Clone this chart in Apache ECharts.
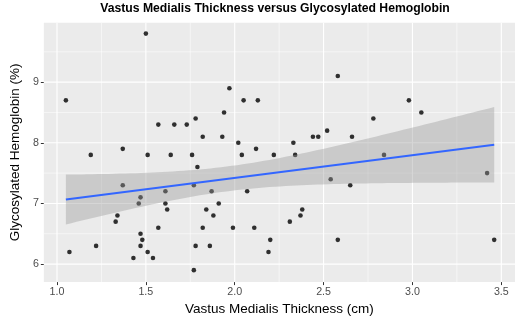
<!DOCTYPE html>
<html>
<head>
<meta charset="utf-8">
<script src="https://cdn.jsdelivr.net/npm/echarts@6/dist/echarts.min.js"></script>
<style>
  html, body { margin: 0; padding: 0; background: #fff; }
  #chart { width: 520px; height: 321px; }
</style>
</head>
<body>
<div id="chart"></div>
<script>
// vastus medialis thickness (cm) and HbA1c (%) per subject
var thickness = [
  1.05, 1.07, 1.19, 1.22, 1.33, 1.34, 1.37, 1.37, 1.43, 1.46,
  1.47, 1.47, 1.47, 1.48, 1.50, 1.51, 1.51, 1.54, 1.57, 1.57,
  1.61, 1.61, 1.62, 1.64, 1.66, 1.73, 1.76, 1.77, 1.77, 1.78,
  1.78, 1.79, 1.82, 1.82, 1.84, 1.86, 1.87, 1.88, 1.91, 1.93,
  1.94, 1.97, 1.99, 2.02, 2.04, 2.05, 2.07, 2.11, 2.12, 2.13,
  2.19, 2.20, 2.22, 2.31, 2.33, 2.34, 2.37, 2.38, 2.44, 2.47,
  2.52, 2.54, 2.58, 2.58, 2.65, 2.66, 2.78, 2.84, 2.98, 3.05,
  3.42, 3.46
];
var hba1c = [
  8.7, 6.2, 7.8, 6.3, 6.7, 6.8, 7.9, 7.3, 6.1, 7.0,
  7.1, 6.5, 6.3, 6.4, 9.8, 7.8, 6.2, 6.1, 8.3, 6.6,
  7.0, 7.2, 6.9, 7.8, 8.3, 8.3, 7.8, 7.3, 5.9, 8.4,
  6.3, 7.6, 8.1, 6.6, 6.9, 6.3, 7.2, 6.8, 7.0, 8.1,
  8.5, 8.9, 6.6, 8.0, 7.8, 8.7, 7.2, 6.6, 7.9, 8.7,
  6.2, 6.4, 7.8, 6.7, 8.0, 7.8, 6.8, 6.9, 8.1, 8.1,
  8.2, 7.4, 9.1, 6.4, 7.3, 8.1, 8.4, 7.8, 8.7, 8.5,
  7.5, 6.4
];

var xTicks = [1.0, 1.5, 2.0, 2.5, 3.0, 3.5];
var xMinor = [1.25, 1.75, 2.25, 2.75, 3.25];
var yTicks = [6, 7, 8, 9];
var yMinor = [6.5, 7.5, 8.5, 9.5];

var xMin = 0.926, xMax = 3.577;
var yMin = 5.703, yMax = 9.98;

// linear fit + 95% confidence band (like geom_smooth(method = "lm"))
var n = thickness.length;
var mx = 0, my = 0;
for (var i = 0; i < n; i++) { mx += thickness[i]; my += hba1c[i]; }
mx /= n; my /= n;
var sxx = 0, sxy = 0;
for (var i = 0; i < n; i++) {
  sxx += (thickness[i] - mx) * (thickness[i] - mx);
  sxy += (thickness[i] - mx) * (hba1c[i] - my);
}
var slope = sxy / sxx;
var icpt = my - slope * mx;
var sse = 0;
for (var i = 0; i < n; i++) {
  var r = hba1c[i] - (icpt + slope * thickness[i]);
  sse += r * r;
}
var sigma = Math.sqrt(sse / (n - 2));
var tq = 1.9944; // qt(0.975, 70)
var lo = Math.min.apply(null, thickness), hi = Math.max.apply(null, thickness);

function fit(x) { return icpt + slope * x; }
function halfWidth(x) { return tq * sigma * Math.sqrt(1 / n + (x - mx) * (x - mx) / sxx); }

var points = thickness.map(function (x, i) { return [x, hba1c[i]]; });

var gridLines = [];
xTicks.forEach(function (v) { gridLines.push({ v: v, dir: 'x', w: 1.1 }); });
xMinor.forEach(function (v) { gridLines.push({ v: v, dir: 'x', w: 0.55 }); });
yTicks.forEach(function (v) { gridLines.push({ v: v, dir: 'y', w: 1.1 }); });
yMinor.forEach(function (v) { gridLines.push({ v: v, dir: 'y', w: 0.55 }); });

var mychart = echarts.init(document.getElementById('chart'));

mychart.setOption({
  animation: false,
  textStyle: { fontFamily: 'Liberation Sans' },
  title: {
    text: 'Vastus Medialis Thickness versus Glycosylated Hemoglobin',
    left: 275,
    top: 3,
    padding: 0,
    textAlign: 'center',
    textStyle: { fontSize: 12.2, fontWeight: 'bold', color: '#000', fontFamily: 'Liberation Sans' }
  },
  grid: {
    left: 33.3, right: 5, top: 22.7, bottom: 38.7,
    show: true, backgroundColor: '#EBEBEB', borderWidth: 0
  },
  xAxis: {
    type: 'value',
    min: xMin, max: xMax,
    name: 'Vastus Medialis Thickness (cm)',
    nameLocation: 'middle',
    nameGap: 13,
    nameTextStyle: { fontSize: 13.5, color: '#000' },
    axisLine: { show: false },
    splitLine: { show: false },
    axisTick: { show: true, customValues: xTicks, length: 3, lineStyle: { color: '#333' } },
    axisLabel: {
      customValues: xTicks, margin: 4, fontSize: 10.7, color: '#4D4D4D',
      formatter: function (v) { return v.toFixed(1); }
    }
  },
  yAxis: {
    type: 'value',
    min: yMin, max: yMax,
    name: 'Glycosylated Hemoglobin (%)',
    nameLocation: 'middle',
    nameGap: 13,
    nameTextStyle: { fontSize: 13.5, color: '#000' },
    axisLine: { show: false },
    splitLine: { show: false },
    axisTick: { show: true, customValues: yTicks, length: 3, lineStyle: { color: '#333' } },
    axisLabel: {
      customValues: yTicks, margin: 5, fontSize: 10.7, color: '#4D4D4D',
      formatter: function (v) { return String(Math.round(v)); }
    }
  },
  series: [
    {
      // panel grid lines
      type: 'custom',
      z: 1,
      silent: true,
      data: gridLines.map(function (g, i) { return [i]; }),
      renderItem: function (params, api) {
        var g = gridLines[params.dataIndex];
        var a, b;
        if (g.dir === 'x') { a = api.coord([g.v, yMin]); b = api.coord([g.v, yMax]); }
        else { a = api.coord([xMin, g.v]); b = api.coord([xMax, g.v]); }
        return {
          type: 'line',
          shape: { x1: a[0], y1: a[1], x2: b[0], y2: b[1] },
          style: { stroke: '#FFFFFF', lineWidth: g.w }
        };
      }
    },
    {
      name: 'subjects',
      type: 'scatter',
      z: 2,
      symbolSize: 4.6,
      itemStyle: { color: '#000' },
      data: points
    },
    {
      // confidence band
      type: 'custom',
      z: 3,
      silent: true,
      data: [[lo]],
      renderItem: function (params, api) {
        var up = [], dn = [];
        var steps = 80;
        for (var k = 0; k <= steps; k++) {
          var x = lo + (hi - lo) * k / steps;
          up.push(api.coord([x, fit(x) + halfWidth(x)]));
          dn.unshift(api.coord([x, fit(x) - halfWidth(x)]));
        }
        return {
          type: 'polygon',
          shape: { points: up.concat(dn) },
          style: { fill: 'rgba(153,153,153,0.4)' }
        };
      }
    },
    {
      name: 'fit',
      type: 'line',
      z: 4,
      symbol: 'none',
      lineStyle: { color: '#3366FF', width: 2 },
      data: [[lo, fit(lo)], [hi, fit(hi)]]
    }
  ]
});
</script>
</body>
</html>
